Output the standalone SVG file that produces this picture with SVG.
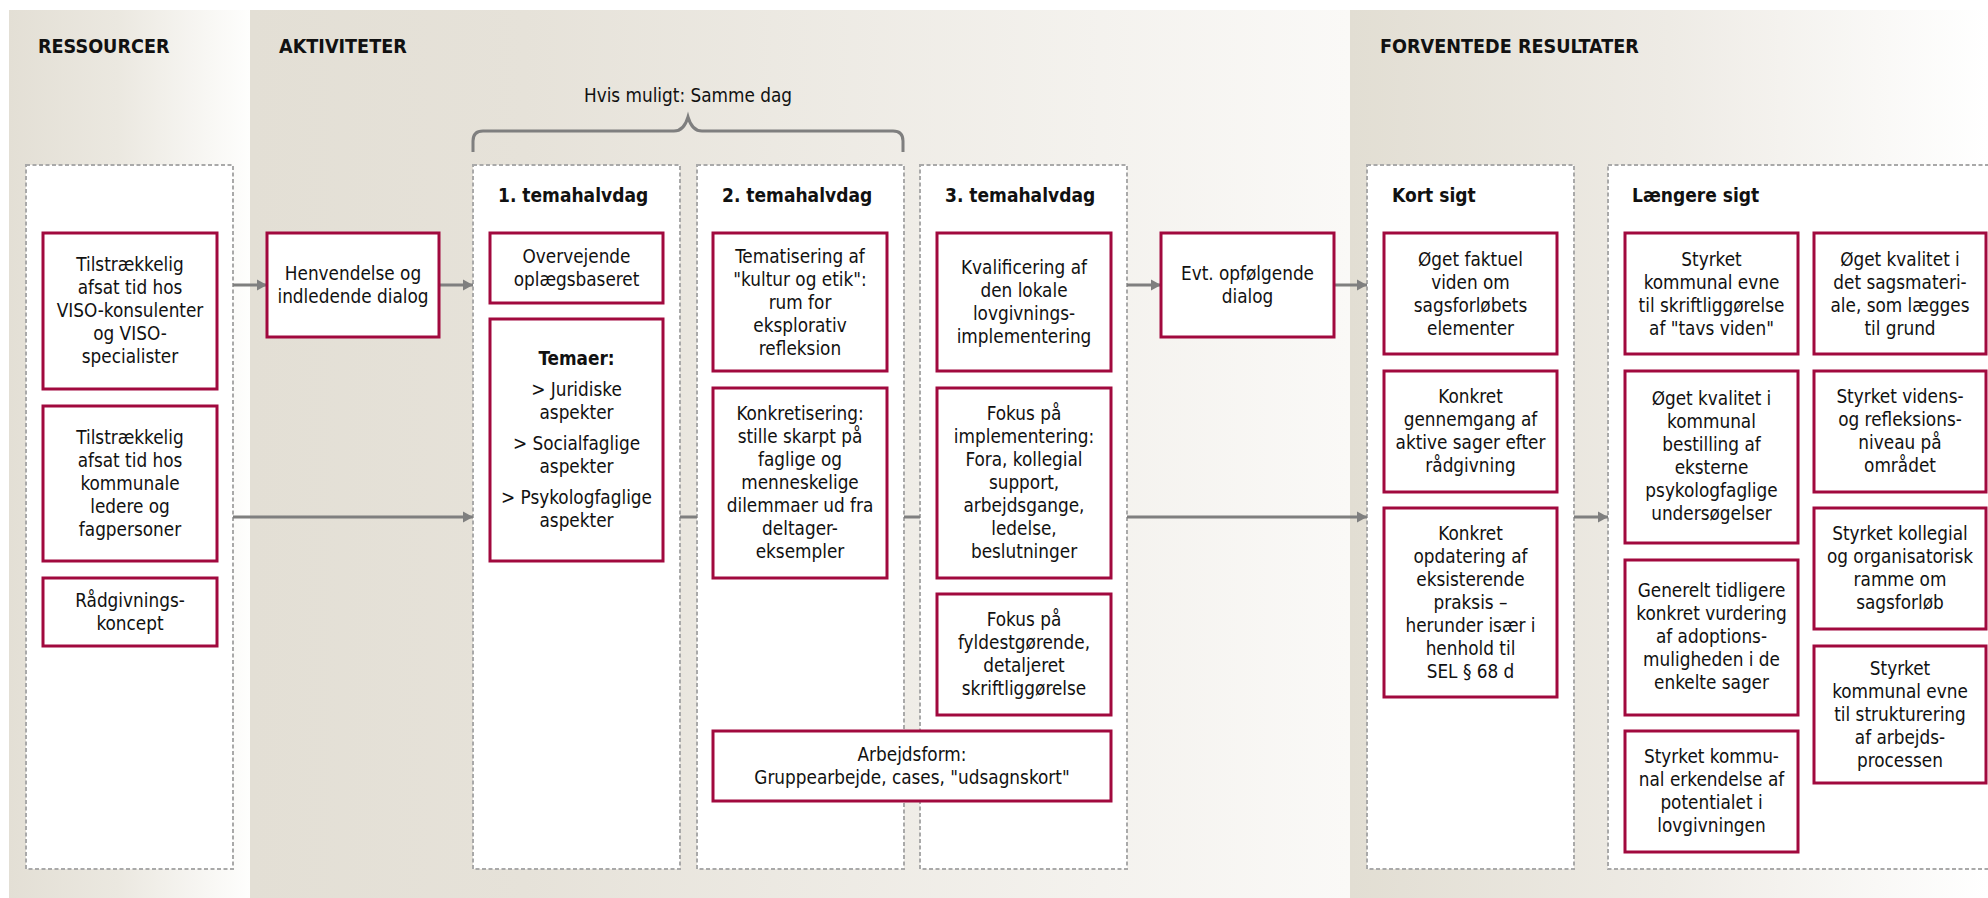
<svg xmlns="http://www.w3.org/2000/svg" width="1988" height="898" viewBox="0 0 1988 898">
<defs>
<linearGradient id="gRes" x1="0" y1="0" x2="1" y2="0">
<stop offset="0" stop-color="#e3dfd5"/><stop offset="0.45" stop-color="#ebe8e0"/><stop offset="1" stop-color="#fefefd"/>
</linearGradient>
<linearGradient id="gAkt" x1="0" y1="0" x2="1" y2="0">
<stop offset="0" stop-color="#e3dfd5"/><stop offset="0.25" stop-color="#e6e2d9"/><stop offset="1" stop-color="#faf9f7"/>
</linearGradient>
<linearGradient id="gRes2" x1="0" y1="0" x2="1" y2="0">
<stop offset="0" stop-color="#e2ded3"/><stop offset="0.5" stop-color="#eeebe5"/><stop offset="1" stop-color="#ffffff"/>
</linearGradient>
<marker id="arr" markerUnits="userSpaceOnUse" markerWidth="12" markerHeight="12" refX="10" refY="6" orient="auto">
<path d="M0,0.5 L10,6 L0,11.5 Z" fill="#7f7f7f"/>
</marker>
<style>
.panel{stroke:none}
.cont{fill:#ffffff;stroke:#a9a9a9;stroke-width:2;stroke-dasharray:4 2.5}
.box{fill:#ffffff;stroke:#a1093e;stroke-width:3}
.t{font-family:"DejaVu Sans Condensed","DejaVu Sans",sans-serif;font-stretch:condensed;font-size:18.8px;text-anchor:middle;fill:#111111}
.hd{font-family:"DejaVu Sans Condensed","DejaVu Sans",sans-serif;font-stretch:condensed;font-size:19px;font-weight:bold;fill:#111111}
.sec{font-family:"DejaVu Sans Condensed","DejaVu Sans",sans-serif;font-stretch:condensed;font-size:19.6px;font-weight:bold;fill:#111111}
.b{font-weight:bold}
.con{fill:none;stroke:#7f7f7f;stroke-width:3}
.arw{marker-end:url(#arr)}
</style>
</defs>

<rect width="1988" height="898" fill="#ffffff"/>
<g id="backgrounds">
<rect class="panel" x="9" y="10" width="241" height="888" fill="url(#gRes)"/>
<rect class="panel" x="250" y="10" width="1100" height="888" fill="url(#gAkt)"/>
<rect class="panel" x="1350" y="10" width="638" height="888" fill="url(#gRes2)"/>
<text class="sec" x="38" y="53">RESSOURCER</text>
<text class="sec" x="279" y="53">AKTIVITETER</text>
<text class="sec" x="1380" y="53">FORVENTEDE RESULTATER</text>
</g>

<g id="brace">
<path class="con" d="M473,152 L473,141 Q473,131 483,131 L674,131 Q684,131 688,117 Q692,131 702,131 L893,131 Q903,131 903,141 L903,152"/>
<text class="t" x="688" y="102">Hvis muligt: Samme dag</text>
</g>

<g id="containers">
<g id="c-ressourcer"><rect class="cont" x="26" y="165" width="207" height="704"/></g>
<g id="c-dag1"><rect class="cont" x="473" y="165" width="207" height="704"/><text class="hd" x="498" y="202">1. temahalvdag</text></g>
<g id="c-dag2"><rect class="cont" x="697" y="165" width="207" height="704"/><text class="hd" x="722" y="202">2. temahalvdag</text></g>
<g id="c-dag3"><rect class="cont" x="920" y="165" width="207" height="704"/><text class="hd" x="945" y="202">3. temahalvdag</text></g>
<g id="c-kort"><rect class="cont" x="1367" y="165" width="207" height="704"/><text class="hd" x="1392" y="202">Kort sigt</text></g>
<g id="c-laengere"><rect class="cont" x="1608" y="165" width="420" height="704"/><text class="hd" x="1632" y="202">Længere sigt</text></g>
</g>

<g id="connectors">
<line class="con arw" x1="233" y1="285" x2="267" y2="285"/>
<line class="con arw" x1="439" y1="285" x2="473" y2="285"/>
<line class="con arw" x1="233" y1="517" x2="473" y2="517"/>
<line class="con" x1="680" y1="517" x2="697" y2="517"/>
<line class="con" x1="904" y1="517" x2="920" y2="517"/>
<line class="con arw" x1="1127" y1="285" x2="1161" y2="285"/>
<line class="con arw" x1="1334" y1="285" x2="1367" y2="285"/>
<line class="con arw" x1="1127" y1="517" x2="1367" y2="517"/>
<line class="con arw" x1="1574" y1="517" x2="1608" y2="517"/>
</g>

<g id="n-res1"><rect class="box" x="43" y="233" width="174" height="156"/>
<text class="t" x="130" y="271">Tilstrækkelig</text><text class="t" x="130" y="294">afsat tid hos</text><text class="t" x="130" y="317">VISO-konsulenter</text><text class="t" x="130" y="340">og VISO-</text><text class="t" x="130" y="363">specialister</text></g>
<g id="n-res2"><rect class="box" x="43" y="406" width="174" height="155"/>
<text class="t" x="130" y="444">Tilstrækkelig</text><text class="t" x="130" y="467">afsat tid hos</text><text class="t" x="130" y="490">kommunale</text><text class="t" x="130" y="513">ledere og</text><text class="t" x="130" y="536">fagpersoner</text></g>
<g id="n-res3"><rect class="box" x="43" y="578" width="174" height="68"/>
<text class="t" x="130" y="607">Rådgivnings-</text><text class="t" x="130" y="630">koncept</text></g>

<g id="n-henvendelse"><rect class="box" x="267" y="233" width="172" height="104"/>
<text class="t" x="353" y="280">Henvendelse og</text><text class="t" x="353" y="303">indledende dialog</text></g>

<g id="n-overvejende"><rect class="box" x="490" y="233" width="173" height="70"/>
<text class="t" x="576.5" y="263">Overvejende</text><text class="t" x="576.5" y="286">oplægsbaseret</text></g>
<g id="n-temaer"><rect class="box" x="490" y="319" width="173" height="242"/>
<text class="t b" x="576.5" y="365">Temaer:</text>
<text class="t" x="576.5" y="396">&gt; Juridiske</text><text class="t" x="576.5" y="419">aspekter</text>
<text class="t" x="576.5" y="450">&gt; Socialfaglige</text><text class="t" x="576.5" y="473">aspekter</text>
<text class="t" x="576.5" y="504">&gt; Psykologfaglige</text><text class="t" x="576.5" y="527">aspekter</text></g>

<g id="n-tematisering"><rect class="box" x="713" y="233" width="174" height="138"/>
<text class="t" x="800" y="262.5">Tematisering af</text><text class="t" x="800" y="285.5">"kultur og etik":</text><text class="t" x="800" y="308.5">rum for</text><text class="t" x="800" y="331.5">eksplorativ</text><text class="t" x="800" y="354.5">refleksion</text></g>
<g id="n-konkretisering"><rect class="box" x="713" y="388" width="174" height="190"/>
<text class="t" x="800" y="420">Konkretisering:</text><text class="t" x="800" y="443">stille skarpt på</text><text class="t" x="800" y="466">faglige og</text><text class="t" x="800" y="489">menneskelige</text><text class="t" x="800" y="512">dilemmaer ud fra</text><text class="t" x="800" y="535">deltager-</text><text class="t" x="800" y="558">eksempler</text></g>
<g id="n-arbejdsform"><rect class="box" x="713" y="731" width="398" height="70"/>
<text class="t" x="912" y="761">Arbejdsform:</text><text class="t" x="912" y="784">Gruppearbejde, cases, "udsagnskort"</text></g>

<g id="n-kvalificering"><rect class="box" x="937" y="233" width="174" height="138"/>
<text class="t" x="1024" y="274">Kvalificering af</text><text class="t" x="1024" y="297">den lokale</text><text class="t" x="1024" y="320">lovgivnings-</text><text class="t" x="1024" y="343">implementering</text></g>
<g id="n-fokus-impl"><rect class="box" x="937" y="388" width="174" height="190"/>
<text class="t" x="1024" y="420">Fokus på</text><text class="t" x="1024" y="443">implementering:</text><text class="t" x="1024" y="466">Fora, kollegial</text><text class="t" x="1024" y="489">support,</text><text class="t" x="1024" y="512">arbejdsgange,</text><text class="t" x="1024" y="535">ledelse,</text><text class="t" x="1024" y="558">beslutninger</text></g>
<g id="n-fokus-skrift"><rect class="box" x="937" y="594" width="174" height="121"/>
<text class="t" x="1024" y="626">Fokus på</text><text class="t" x="1024" y="649">fyldestgørende,</text><text class="t" x="1024" y="672">detaljeret</text><text class="t" x="1024" y="695">skriftliggørelse</text></g>

<g id="n-evt"><rect class="box" x="1161" y="233" width="173" height="104"/>
<text class="t" x="1247.5" y="280">Evt. opfølgende</text><text class="t" x="1247.5" y="303">dialog</text></g>

<g id="n-kort1"><rect class="box" x="1384" y="233" width="173" height="121"/>
<text class="t" x="1470.5" y="265.5">Øget faktuel</text><text class="t" x="1470.5" y="288.5">viden om</text><text class="t" x="1470.5" y="311.5">sagsforløbets</text><text class="t" x="1470.5" y="334.5">elementer</text></g>
<g id="n-kort2"><rect class="box" x="1384" y="371" width="173" height="121"/>
<text class="t" x="1470.5" y="403">Konkret</text><text class="t" x="1470.5" y="426">gennemgang af</text><text class="t" x="1470.5" y="449">aktive sager efter</text><text class="t" x="1470.5" y="472">rådgivning</text></g>
<g id="n-kort3"><rect class="box" x="1384" y="508" width="173" height="189"/>
<text class="t" x="1470.5" y="540">Konkret</text><text class="t" x="1470.5" y="563">opdatering af</text><text class="t" x="1470.5" y="586">eksisterende</text><text class="t" x="1470.5" y="609">praksis –</text><text class="t" x="1470.5" y="632">herunder især i</text><text class="t" x="1470.5" y="655">henhold til</text><text class="t" x="1470.5" y="678">SEL § 68 d</text></g>

<g id="n-lang1"><rect class="box" x="1625" y="233" width="173" height="121"/>
<text class="t" x="1711.5" y="265.5">Styrket</text><text class="t" x="1711.5" y="288.5">kommunal evne</text><text class="t" x="1711.5" y="311.5">til skriftliggørelse</text><text class="t" x="1711.5" y="334.5">af "tavs viden"</text></g>
<g id="n-lang2"><rect class="box" x="1625" y="371" width="173" height="172"/>
<text class="t" x="1711.5" y="405">Øget kvalitet i</text><text class="t" x="1711.5" y="428">kommunal</text><text class="t" x="1711.5" y="451">bestilling af</text><text class="t" x="1711.5" y="474">eksterne</text><text class="t" x="1711.5" y="497">psykologfaglige</text><text class="t" x="1711.5" y="520">undersøgelser</text></g>
<g id="n-lang3"><rect class="box" x="1625" y="560" width="173" height="155"/>
<text class="t" x="1711.5" y="597">Generelt tidligere</text><text class="t" x="1711.5" y="620">konkret vurdering</text><text class="t" x="1711.5" y="643">af adoptions-</text><text class="t" x="1711.5" y="666">muligheden i de</text><text class="t" x="1711.5" y="689">enkelte sager</text></g>
<g id="n-lang4"><rect class="box" x="1625" y="731" width="173" height="121"/>
<text class="t" x="1711.5" y="763">Styrket kommu-</text><text class="t" x="1711.5" y="786">nal erkendelse af</text><text class="t" x="1711.5" y="809">potentialet i</text><text class="t" x="1711.5" y="832">lovgivningen</text></g>

<g id="n-lang5"><rect class="box" x="1814" y="233" width="172" height="121"/>
<text class="t" x="1900" y="265.5">Øget kvalitet i</text><text class="t" x="1900" y="288.5">det sagsmateri-</text><text class="t" x="1900" y="311.5">ale, som lægges</text><text class="t" x="1900" y="334.5">til grund</text></g>
<g id="n-lang6"><rect class="box" x="1814" y="371" width="172" height="121"/>
<text class="t" x="1900" y="403">Styrket videns-</text><text class="t" x="1900" y="426">og refleksions-</text><text class="t" x="1900" y="449">niveau på</text><text class="t" x="1900" y="472">området</text></g>
<g id="n-lang7"><rect class="box" x="1814" y="508" width="172" height="121"/>
<text class="t" x="1900" y="540">Styrket kollegial</text><text class="t" x="1900" y="563">og organisatorisk</text><text class="t" x="1900" y="586">ramme om</text><text class="t" x="1900" y="609">sagsforløb</text></g>
<g id="n-lang8"><rect class="box" x="1814" y="646" width="172" height="137"/>
<text class="t" x="1900" y="675">Styrket</text><text class="t" x="1900" y="698">kommunal evne</text><text class="t" x="1900" y="721">til strukturering</text><text class="t" x="1900" y="744">af arbejds-</text><text class="t" x="1900" y="767">processen</text></g>
</svg>
